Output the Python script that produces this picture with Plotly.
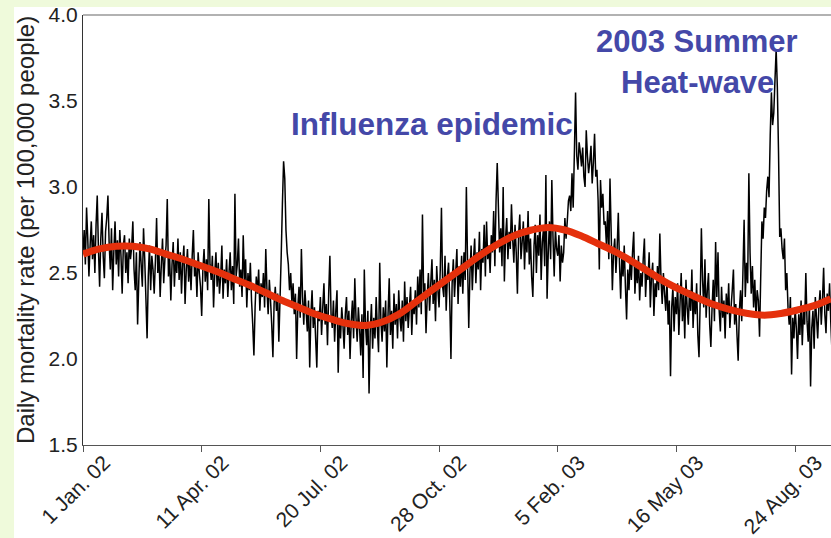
import pandas as pd
import plotly.graph_objects as go

# ---------------- data ----------------
start_date = "2002-01-01"

# daily mortality rate (per 100,000 people), one value per day from 1 Jan 2002
daily_rate = [
    2.62, 2.75, 2.55, 2.88, 2.70, 2.48, 2.66, 2.80, 2.58, 2.72,
    2.50, 2.78, 2.95, 2.64, 2.42, 2.70, 2.85, 2.60, 2.47, 2.74,
    2.82, 2.95, 2.68, 2.52, 2.76, 2.40, 2.63, 2.80, 2.55, 2.69,
    2.48, 2.75, 2.60, 2.38, 2.66, 2.72, 2.50, 2.62, 2.44, 2.70,
    2.58, 2.65, 2.80, 2.52, 2.40, 2.62, 2.20, 2.45, 2.68, 2.55,
    2.42, 2.76, 2.58, 2.35, 2.12, 2.48, 2.66, 2.40, 2.60, 2.52,
    2.38, 2.57, 2.82, 2.50, 2.62, 2.36, 2.55, 2.70, 2.44, 2.58,
    2.66, 2.93, 2.48, 2.60, 2.34, 2.55, 2.68, 2.42, 2.58, 2.50,
    2.70, 2.46, 2.62, 2.38, 2.56, 2.66, 2.32, 2.52, 2.64, 2.45,
    2.58, 2.40, 2.60, 2.75, 2.48, 2.55, 2.36, 2.62, 2.50, 2.42,
    2.25, 2.52, 2.64, 2.45, 2.58, 2.40, 2.93, 2.55, 2.46, 2.60,
    2.30, 2.50, 2.62, 2.42, 2.56, 2.38, 2.48, 2.66, 2.35, 2.52,
    2.44, 2.58, 2.36, 2.50, 2.62, 2.40, 2.54, 2.32, 2.96, 2.48,
    2.55, 2.70, 2.42, 2.52, 2.36, 2.72, 2.46, 2.58, 2.30, 2.50,
    2.40, 2.56, 2.34, 2.20, 2.02, 2.30, 2.48, 2.38, 2.52, 2.28,
    2.44, 2.36, 2.50, 2.30, 2.64, 2.40, 2.26, 2.46, 2.34, 2.20,
    2.01, 2.32, 2.42, 2.28, 2.38, 2.10, 2.35, 2.60, 2.90, 3.15,
    3.05, 2.75, 2.62, 2.55, 2.40, 2.50, 2.32, 2.44, 2.26, 2.38,
    2.00, 2.30, 2.42, 2.24, 2.64, 2.36, 2.20, 2.40, 2.28, 2.16,
    2.34, 1.95, 2.26, 2.40, 2.18, 2.30, 2.12, 1.95, 2.28, 2.22,
    2.36, 2.14, 2.30, 2.44, 2.20, 2.32, 2.08, 2.38, 2.60, 2.26,
    2.18, 2.34, 2.10, 2.28, 2.40, 1.92, 2.24, 2.12, 2.30, 2.20,
    2.06, 2.26, 2.36, 2.14, 2.28, 2.00, 2.22, 2.34, 2.12, 2.47,
    2.24, 2.10, 2.30, 2.18, 2.02, 2.26, 1.89, 2.52, 2.20, 2.08,
    2.28, 1.80, 2.16, 2.32, 2.06, 2.24, 2.12, 2.36, 2.18, 2.04,
    2.56, 2.22, 2.10, 2.30, 2.16, 2.34, 1.95, 2.26, 2.47, 2.14,
    2.28, 2.06, 2.38, 2.20, 2.32, 2.12, 2.40, 2.24, 2.16, 2.34,
    2.10, 2.45, 2.22, 2.36, 2.18, 2.30, 2.42, 2.14, 2.34, 2.26,
    2.40, 2.20, 2.48, 2.30, 2.52, 2.26, 2.84, 2.38, 2.44, 2.15,
    2.36, 2.50, 2.28, 2.44, 2.58, 2.32, 2.46, 2.22, 2.54, 2.40,
    2.30, 2.52, 2.88, 2.42, 2.36, 2.60, 2.28, 2.48, 2.56, 2.34,
    2.00, 2.44, 2.58, 2.36, 2.50, 2.64, 2.32, 2.54, 2.42, 2.60,
    2.38, 2.62, 2.46, 3.00, 2.56, 2.18, 2.50, 2.66, 2.40, 2.58,
    2.70, 2.44, 2.62, 2.52, 2.74, 2.40, 2.64, 2.56, 2.78, 2.48,
    2.80, 2.58, 2.66, 2.50, 2.72, 2.62, 2.86, 2.54, 2.92, 3.14,
    2.88, 2.62, 2.76, 2.54, 3.00, 2.45, 2.70, 2.82, 2.58, 2.74,
    2.64, 2.90, 2.70, 2.56, 2.78, 2.62, 2.38, 2.72, 2.84, 2.58,
    2.68, 2.80, 2.52, 2.74, 2.62, 2.86, 2.55, 2.70, 2.48, 2.36,
    2.66, 2.78, 2.50, 2.72, 2.60, 2.84, 2.46, 2.68, 2.76, 2.54,
    3.07, 2.35, 2.62, 2.80, 2.58, 3.04, 2.70, 2.48, 2.76, 2.64,
    2.60, 2.72, 2.45, 2.66, 2.56, 2.62, 2.82, 2.70, 2.80, 2.92,
    2.95, 2.86, 3.08, 2.88, 3.20, 3.55, 3.18, 3.10, 3.26, 3.20,
    3.12, 3.23, 3.06, 3.00, 3.33, 3.18, 3.08, 3.15, 3.24, 3.02,
    3.14, 3.31, 3.06, 3.10, 2.92, 2.52, 3.04, 2.88, 2.96, 2.78,
    2.80, 2.66, 2.86, 2.58, 3.05, 2.74, 2.40, 2.62, 2.70, 2.50,
    2.64, 2.85, 2.56, 2.35, 2.60, 2.48, 2.66, 2.42, 2.23, 2.52,
    2.40, 2.58, 2.46, 2.62, 2.74, 2.38, 2.54, 2.44, 2.60, 2.34,
    2.50, 2.42, 2.58, 2.70, 2.36, 2.52, 2.46, 2.62, 2.30, 2.48,
    2.56, 2.25, 2.44, 2.36, 2.54, 2.40, 2.73, 2.46, 2.32, 2.50,
    2.38, 2.28, 2.46, 2.20, 2.34, 1.90, 2.30, 2.42, 2.16, 2.36,
    2.26, 2.44, 2.14, 2.32, 2.50, 2.22, 2.38, 2.12, 2.46, 2.30,
    2.20, 2.40, 2.28, 2.52, 2.18, 2.36, 2.26, 2.44, 2.14, 2.01,
    2.34, 2.76, 2.46, 2.30, 2.58, 2.24, 2.40, 2.50, 2.20, 2.07,
    2.30, 2.46, 2.22, 2.68, 2.36, 2.62, 2.28, 2.16, 2.42, 2.24,
    2.34, 2.12, 2.38, 2.26, 2.44, 2.18, 2.30, 2.40, 2.52, 2.20,
    2.32, 2.14, 1.99, 2.28, 2.40, 2.22, 2.50, 2.81, 2.36, 2.56,
    2.44, 3.08, 2.62, 2.38, 2.54, 2.30, 2.46, 2.24, 2.40, 2.34,
    2.13, 2.48, 2.80, 2.70, 2.88, 2.82, 2.98, 3.06, 2.94, 3.30,
    3.55, 3.36, 3.43, 3.62, 3.80, 3.58, 3.20, 2.71, 2.76, 2.64,
    2.58, 2.70, 2.40, 2.50, 2.30, 2.20, 2.36, 1.91, 2.24, 2.12,
    2.30, 2.18, 2.00, 2.26, 2.14, 2.34, 2.08, 2.28, 2.20, 2.50,
    2.22, 2.10, 2.32, 1.84, 2.18, 2.28, 2.06, 2.36, 2.24, 2.12,
    2.30, 2.40, 2.20, 2.34, 2.53, 2.26, 2.15, 2.38, 2.28, 2.44,
    2.22, 2.05,
]

# seasonal baseline (fitted curve), sampled every 14 days
baseline_day = [0, 14, 28, 42, 56, 70, 84, 98, 112, 126, 140, 154, 168, 182,
                196, 210, 224, 238, 252, 266, 280, 294, 308, 322, 336, 350,
                364, 378, 392, 406, 420, 434, 448, 462, 476, 490, 504, 518,
                532, 546, 560, 574, 588, 602, 616, 630]
baseline_rate = [2.61, 2.64, 2.655, 2.655, 2.64, 2.61, 2.58, 2.545, 2.51, 2.47,
                 2.43, 2.385, 2.34, 2.30, 2.26, 2.23, 2.205, 2.195, 2.215, 2.26,
                 2.33, 2.40, 2.47, 2.54, 2.61, 2.67, 2.72, 2.75, 2.765, 2.75,
                 2.715, 2.67, 2.625, 2.57, 2.51, 2.45, 2.40, 2.355, 2.315, 2.285,
                 2.265, 2.255, 2.265, 2.285, 2.31, 2.35]

tick_dates = ["2002-01-01", "2002-04-11", "2002-07-20", "2002-10-28",
              "2003-02-05", "2003-05-16", "2003-08-24"]
tick_labels = ["1 Jan. 02", "11 Apr. 02", "20 Jul. 02", "28 Oct. 02",
               "5 Feb. 03", "16 May 03", "24 Aug. 03"]
y_ticks = [1.5, 2.0, 2.5, 3.0, 3.5, 4.0]
y_title = "Daily mortality rate (per 100,000 people)"

# ---------------- figure ----------------
t0 = pd.Timestamp(start_date)
daily_dates = pd.date_range(t0, periods=len(daily_rate), freq="D")
baseline_dates = [t0 + pd.Timedelta(days=d) for d in baseline_day]

FONT = "Liberation Sans, Arial, Helvetica, sans-serif"
BLUE = "#4448a8"

fig = go.Figure()
fig.add_trace(go.Scatter(
    x=daily_dates, y=daily_rate, mode="lines",
    line=dict(color="black", width=1.5, simplify=False),
    hoverinfo="skip", showlegend=False))
fig.add_trace(go.Scatter(
    x=baseline_dates, y=baseline_rate, mode="lines",
    line=dict(color="#e5300c", width=7, shape="spline"),
    hoverinfo="skip", showlegend=False))

fig.update_layout(
    width=831, height=538,
    margin=dict(l=83, r=0, t=15, b=93, autoexpand=False),
    paper_bgcolor="white", plot_bgcolor="white",
    font=dict(family=FONT, color="#222222"),
    showlegend=False,
    xaxis=dict(
        type="date",
        range=["2002-01-01", "2003-09-23 05:00"],
        tickmode="array", tickvals=tick_dates, ticktext=tick_labels,
        tickangle=-45, tickfont=dict(size=21, color="#222222"),
        ticks="outside", ticklen=6, tickcolor="#555555",
        ticklabelshift=21, ticklabelstandoff=-10,
        ticklabeloverflow="allow",
        automargin=False,
        showline=True, linecolor="#555555", linewidth=1,
        showgrid=False, zeroline=False,
    ),
    yaxis=dict(
        range=[1.5, 4.0],
        tickmode="array", tickvals=y_ticks, tickformat=".1f",
        tickfont=dict(size=21, color="#222222"),
        ticks="", showline=True, linecolor="#333333", linewidth=1,
        showgrid=False, zeroline=False,
        automargin=False,
    ),
    shapes=[
        # light slide background strips
        dict(type="rect", xref="paper", yref="paper",
             x0=-0.12, x1=-0.0922, y0=-0.25, y1=1.05,
             fillcolor="#effadb", line=dict(width=0), layer="below"),
        dict(type="rect", xref="paper", yref="paper",
             x0=-0.12, x1=1.01, y0=1.0186, y1=1.05,
             fillcolor="#effadb", line=dict(width=0), layer="below"),
        # top frame line
        dict(type="line", xref="paper", yref="paper",
             x0=0, x1=1, y0=1, y1=1,
             line=dict(color="#999999", width=1.5)),
    ],
    annotations=[
        dict(text=y_title, xref="paper", yref="paper",
             x=-0.0775, y=0.5, xanchor="center", yanchor="middle",
             textangle=-90, showarrow=False,
             font=dict(size=24, color="#222222", family=FONT)),
        dict(text="<b>Influenza epidemic</b>", xref="paper", yref="paper",
             x=0.4666, y=0.7465, xanchor="center", yanchor="middle",
             showarrow=False, font=dict(size=31.5, color=BLUE, family=FONT)),
        dict(text="<b>2003 Summer</b>", xref="paper", yref="paper",
             x=0.821, y=0.938, xanchor="center", yanchor="middle",
             showarrow=False, font=dict(size=31, color=BLUE, family=FONT)),
        dict(text="<b>Heat-wave</b>", xref="paper", yref="paper",
             x=0.821, y=0.844, xanchor="center", yanchor="middle",
             showarrow=False, font=dict(size=31, color=BLUE, family=FONT)),
    ],
)

fig.write_html(
    "out.html",
    config={"displayModeBar": False},
    post_script="document.body.style.margin='0';document.body.style.overflow='hidden';",
)
